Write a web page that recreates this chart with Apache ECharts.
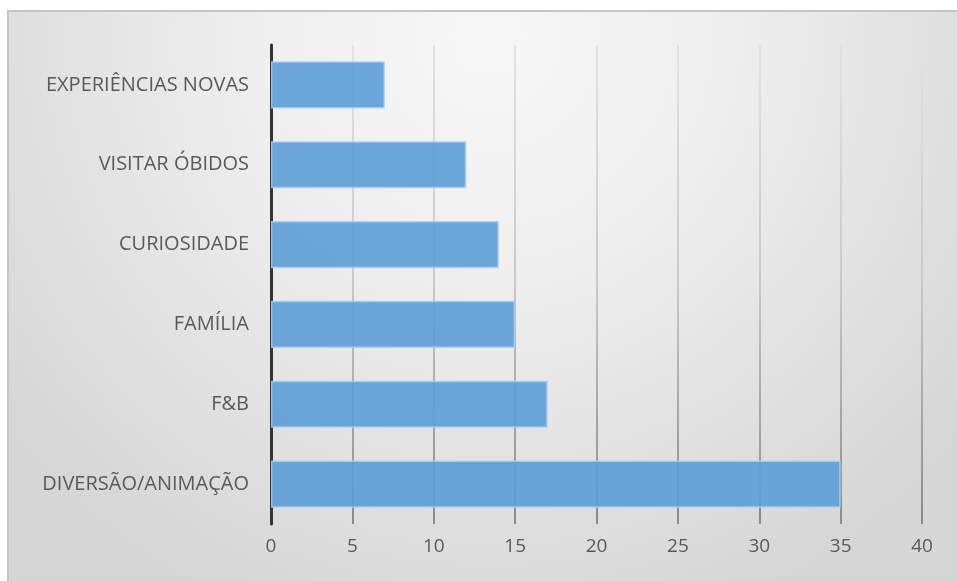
<!DOCTYPE html>
<html>
<head>
<meta charset="utf-8">
<script src="https://cdn.jsdelivr.net/npm/echarts@6/dist/echarts.min.js"></script>
<style>html,body{margin:0;padding:0;background:#fff}#c{width:957px;height:581px}</style>
</head>
<body>
<div id="c"></div>
<script>
const categories = ["DIVERSÃO/ANIMAÇÃO", "F&B", "FAMÍLIA", "CURIOSIDADE", "VISITAR ÓBIDOS", "EXPERIÊNCIAS NOVAS"];
const values = [35, 17, 15, 14, 12, 7];
const xTicks = { min: 0, max: 40, interval: 5 };

const chart = echarts.init(document.getElementById('c'), null, { renderer: 'canvas' });
const font = '"Open Sans", "Noto Sans", sans-serif';
chart.setOption({
  animation: false,
  graphic: [{
    type: 'rect', z: -10, silent: true,
    shape: { x: 8, y: 11, width: 960, height: 580 },
    style: {
      fill: {
        type: 'radial', x: 0.5, y: 0.05, r: 1.05,
        colorStops: [{ offset: 0, color: '#f7f7f7' }, { offset: 0.4, color: '#eeeeee' }, { offset: 1, color: '#d6d6d6' }]
      },
      stroke: '#c4c4c4', lineWidth: 2
    }
  }],
  grid: { left: 271, right: 35, top: 45, bottom: 57, containLabel: false },
  xAxis: {
    type: 'value', min: xTicks.min, max: xTicks.max, interval: xTicks.interval,
    axisLine: { show: false }, axisTick: { show: false },
    axisLabel: { color: '#595959', fontSize: 19, fontFamily: font, margin: 13 },
    splitLine: {
      show: true,
      lineStyle: {
        width: 2,
        color: { type: 'linear', x: 0, y: 45, x2: 0, y2: 524, global: true,
          colorStops: [{ offset: 0, color: '#e2e2e2' }, { offset: 0.5, color: '#c8c8c8' }, { offset: 1, color: '#8a8a8a' }] }
      }
    }
  },
  yAxis: {
    type: 'category', data: categories,
    axisLine: { show: true, lineStyle: { color: '#333', width: 3 } },
    axisTick: { show: false },
    axisLabel: { color: '#595959', fontSize: 20, fontFamily: font, margin: 22 }
  },
  series: [{
    type: 'bar', data: values, barWidth: '59%',
    itemStyle: { color: 'rgba(91,157,214,0.9)', borderColor: 'rgba(170,205,236,0.9)', borderWidth: 1.5 }
  }]
});
</script>
</body>
</html>
